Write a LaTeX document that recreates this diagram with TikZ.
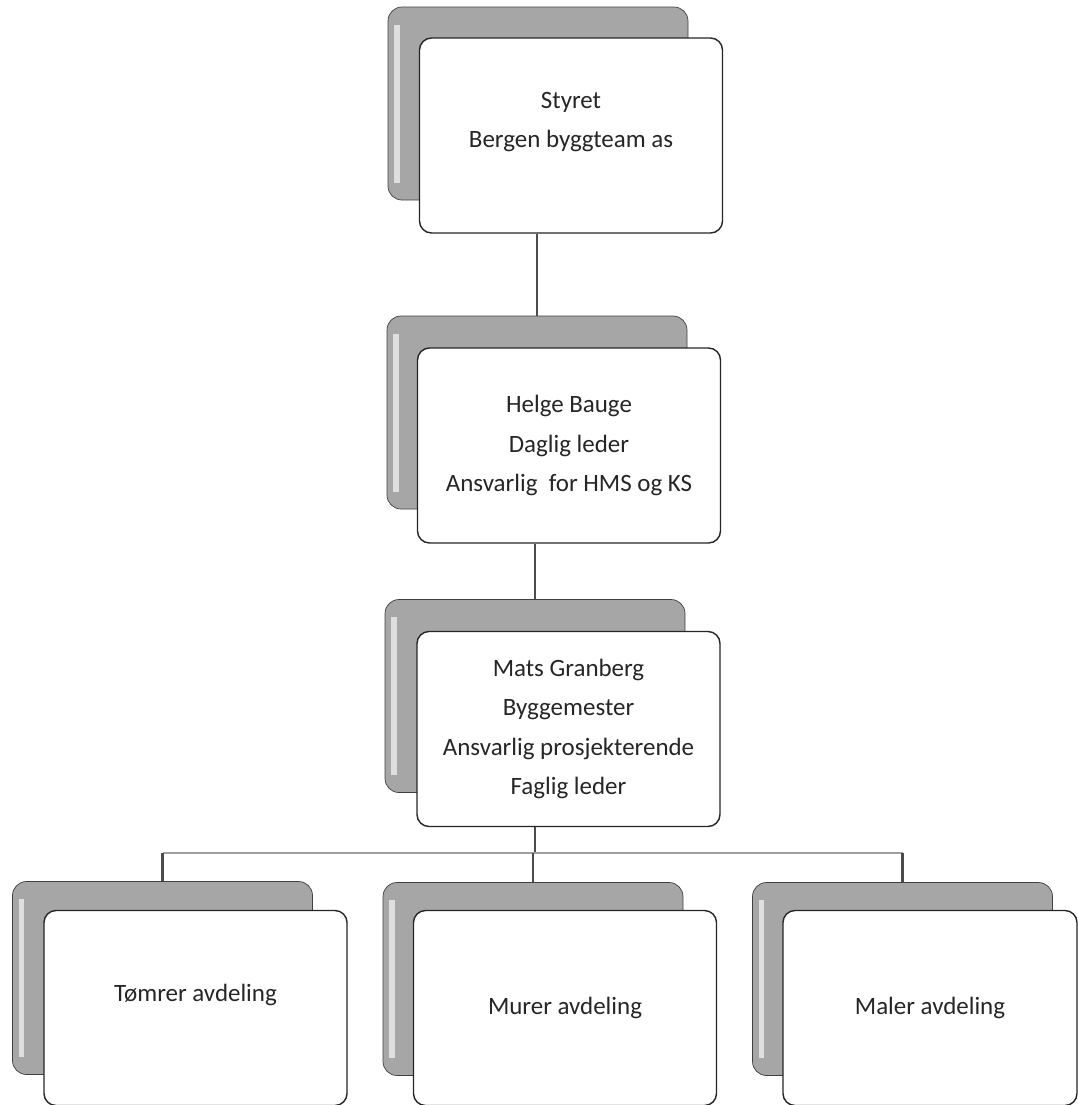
\documentclass[tikz,border=0pt]{standalone}
\usepackage{fontspec}
\setmainfont{Carlito}
\begin{document}
\begin{tikzpicture}[
	bak/.style={draw=black!75, fill=gray!70, rounded corners=0.28cm,
		minimum width=6cm, minimum height=3.86cm,
		path picture={\draw[white!75!gray, line width=3pt]
			([xshift=0.18cm,yshift=-0.35cm]path picture bounding box.north west) --
			([xshift=0.18cm,yshift=0.35cm]path picture bounding box.south west);}},
	boks/.style={draw=black!85, line width=0.8pt, fill=white, rounded corners=0.24cm,
		minimum width=6.06cm, minimum height=3.9cm, align=center,
		font=\fontsize{14.2}{22.5}\selectfont, text=black!85},
	stamme/.style={draw=black!70, line width=1.3pt},
	tverr/.style={draw=gray!75, line width=1.6pt}]
	\useasboundingbox (0,0) rectangle (21.56,-22.10);
	\node [bak] (styretbak) at (10.76,-2.07) {};
	\node [boks, text depth=0.62cm] (styret) at (11.42,-2.71) {Styret\\Bergen byggteam as};
	\node [bak] (helgebak) at (10.74,-8.25) {};
	\node [boks] (helge) at (11.38,-8.91) {Helge Bauge\\Daglig leder\\Ansvarlig\ \ for HMS og KS};
	\node [bak] (matsbak) at (10.70,-13.92) {};
	\node [boks] (mats) at (11.37,-14.58) {Mats Granberg\\Byggemester\\Ansvarlig prosjekterende\\Faglig leder};
	\node [bak] (tomrerbak) at (3.25,-19.56) {};
	\node [boks, text depth=0.6cm] (tomrer) at (3.91,-20.16) {Tømrer avdeling};
	\node [bak] (murerbak) at (10.66,-19.58) {};
	\node [boks] (murer) at (11.30,-20.16) {Murer avdeling};
	\node [bak] (malerbak) at (18.05,-19.58) {};
	\node [boks, minimum width=5.88cm] (maler) at (18.60,-20.16) {Maler avdeling};
	\coordinate (skinne) at (0,-17.06);
	\draw [stamme] (helgebak.north |- styret.south) -- (helgebak.north);
	\draw [stamme] (matsbak.north |- helge.south) -- (matsbak.north);
	\draw [stamme] (matsbak.north |- mats.south) -- (matsbak.north |- skinne);
	\draw [tverr] (tomrerbak.north |- skinne) -- (malerbak.north |- skinne);
	\foreach \n in {tomrerbak, murerbak, malerbak}
		\draw [stamme] (\n.north |- skinne) -- (\n.north);
\end{tikzpicture}
\end{document}
